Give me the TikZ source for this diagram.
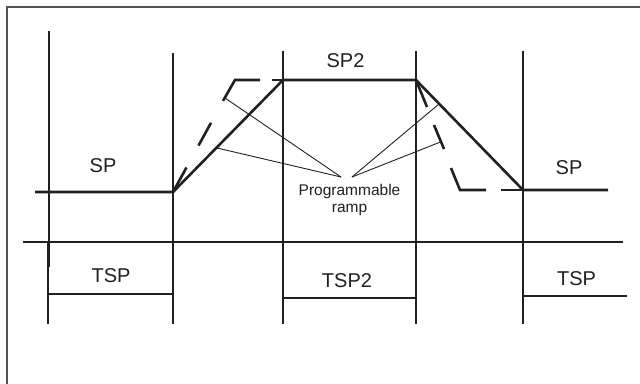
\documentclass[tikz,border=0pt]{standalone}
\usepackage{fontspec}
\setmainfont{Liberation Sans}
\definecolor{ink}{HTML}{231F20}
\definecolor{framegray}{HTML}{555555}
\tikzset{
  heavy/.style={draw=ink, line width=2.6pt, line cap=butt, line join=miter},
  light/.style={draw=ink, line width=1.1pt},
  altramp/.style={draw=ink, line width=2.6pt, line cap=butt},
  pointer/.style={draw=ink, line width=0.9pt},
  biglabel/.style={text=ink, inner sep=0pt, font=\fontsize{20}{24}\selectfont},
  smalllabel/.style={text=ink, inner sep=0pt, anchor=base, font=\fontsize{15.5}{18}\selectfont},
}
\begin{document}
\begin{tikzpicture}[x=1pt, y=-1pt]
  \useasboundingbox (0,0) rectangle (640,383);
  % outer frame (only its left and top edges lie inside the page)
  \draw[framegray, line width=1.5pt] (7,400) -- (7,7) -- (660,7);

  % key points of the set-point profile
  \coordinate (spL)   at (35,192);
  \coordinate (r1s)   at (173,192);
  \coordinate (r1e)   at (283,80);
  \coordinate (r2s)   at (416,80);
  \coordinate (r2e)   at (523,190);
  \coordinate (spR)   at (608,190);

  % axes
  \coordinate (yTop) at (49,31);
  \coordinate (yBot) at (49,267);
  \coordinate (tL) at (23,242);
  \coordinate (tR) at (623,242);
  \draw[heavy] (yTop) -- (yBot);
  \draw[heavy] (tL) -- (tR);

  % segment boundaries
  \foreach \n/\x/\t in {a/173/53, b/283/51, c/416/51, d/523/51} {
    \coordinate (\n top) at (\x,\t);
    \coordinate (\n bot) at (\x,324);
    \draw[light] (\n top) -- (\n bot);
  }
  \coordinate (z top) at (48,242);
  \coordinate (z bot) at (48,324);
  \draw[light] (z top) -- (z bot);

  % duration brackets
  \coordinate (t1a) at (48,294);  \coordinate (t1b) at (173,294);
  \coordinate (t2a) at (283,298); \coordinate (t2b) at (416,298);
  \coordinate (t3a) at (523,296); \coordinate (t3b) at (627,296);
  \draw[light] (t1a) -- (t1b);
  \draw[light] (t2a) -- (t2b);
  \draw[light] (t3a) -- (t3b);

  % alternative (steeper) ramps, dashed
  \draw[altramp] (173,192) -- (186.5,167.5);
  \draw[altramp] (198.5,145.6) -- (211,122.8);
  \draw[altramp, line join=miter] (223,100.9) -- (235,80) -- (260,80);
  \draw[altramp] (272,80) -- (297,80);
  \draw[altramp] (416,80) -- (427,107);
  \draw[altramp] (434,125) -- (444,149);
  \draw[altramp, line join=miter] (451,168) -- (460,190) -- (486,190);
  \draw[altramp] (501,190) -- (523,190);

  % set-point profile
  \draw[heavy] (spL) -- (r1s) -- (r1e) -- (r2s) -- (r2e) -- (spR);

  % pointers to the ramps
  \coordinate (pL) at (341,177);
  \coordinate (pR) at (352,177);
  \coordinate (hitA) at (225,98);
  \coordinate (hitB) at (217,148);
  \coordinate (hitC) at (439,104);
  \coordinate (hitD) at (440.5,142);
  \draw[pointer] (pL) -- (hitA);
  \draw[pointer] (pL) -- (hitB);
  \draw[pointer] (pR) -- (hitC);
  \draw[pointer] (pR) -- (hitD);

  % labels
  \node[biglabel] (lsp1) at (103,165.5) {SP};
  \node[biglabel] (lsp2) at (345.5,60.5) {SP2};
  \node[biglabel] (lsp3) at (569,167.5) {SP};
  \node[biglabel] (ltsp1) at (111,276) {TSP};
  \node[biglabel] (ltsp2) at (347,280.5) {TSP2};
  \node[biglabel] (ltsp3) at (576.5,278.5) {TSP};
  \node[smalllabel] (lprog) at (349.5,195) {Programmable};
  \node[smalllabel] (lramp) at (349.5,212) {ramp};
\end{tikzpicture}
\end{document}
